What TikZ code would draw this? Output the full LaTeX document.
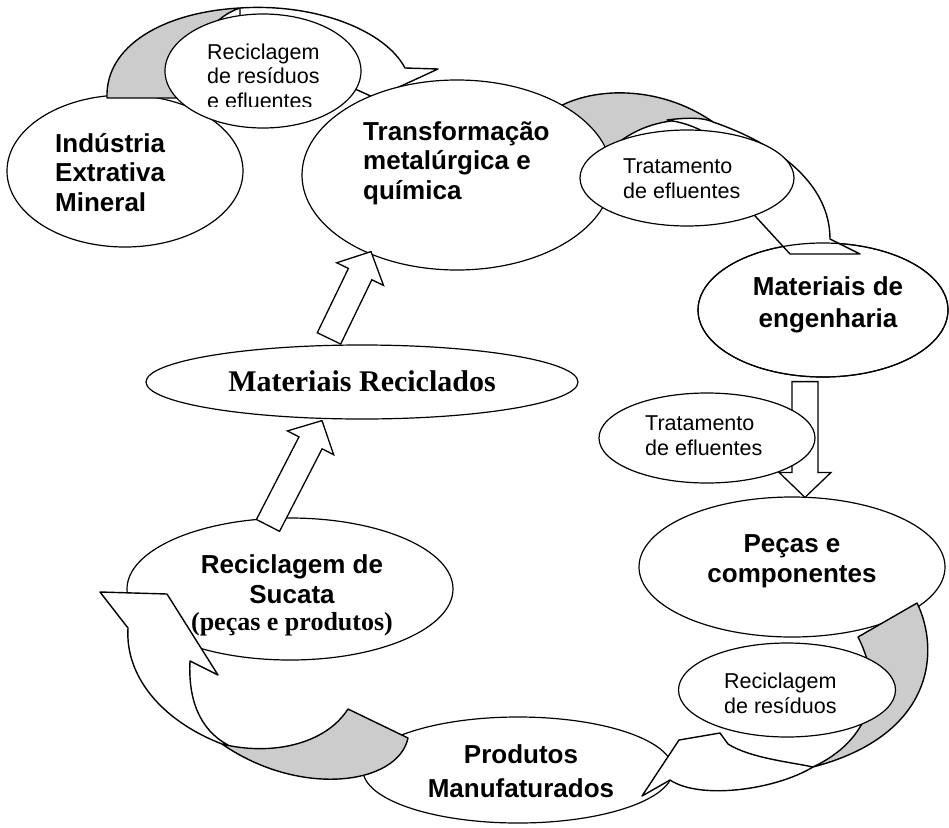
\documentclass[tikz,border=0pt]{standalone}
\usepackage{fontspec}
\setmainfont{Liberation Sans}
\newfontfamily\timesfont{Liberation Serif}
\usetikzlibrary{calc,shapes.geometric}
\tikzset{
  oval/.style={ellipse, draw, fill=white, line width=1.2pt, inner sep=0pt},
  bigtxt/.style={inner sep=0pt, align=left, font=\fontsize{26pt}{29.5pt}\selectfont\bfseries},
  smalltxt/.style={inner sep=0pt, align=left, font=\fontsize{21.5pt}{24.5pt}\selectfont},
  band/.style={draw, fill=white, line width=1.4pt, line join=round},
  fold/.style={band, fill=black!20},
  blockarr/.style={draw, fill=white, line width=1.3pt, line join=miter},
}
% straight block arrow from tail #1 to tip #2
\newcommand{\blockarrow}[2]{%
  \draw[blockarr] ($(#1)!13pt!90:(#2)$)
    -- ($($(#2)!25pt!(#1)$)!13pt!90:(#2)$)
    -- ($($(#2)!25pt!(#1)$)!26pt!90:(#2)$)
    -- (#2)
    -- ($($(#2)!25pt!(#1)$)!26pt!-90:(#2)$)
    -- ($($(#2)!25pt!(#1)$)!13pt!-90:(#2)$)
    -- ($(#1)!13pt!-90:(#2)$) -- cycle;}

\begin{document}
\begin{tikzpicture}[x=1pt, y=-1pt]
  \useasboundingbox (0,0) rectangle (949,827);

  % ovals lying under the arrows
  \node[oval, minimum width=236pt, minimum height=152pt] (ind) at (125,171) {};
  \node[oval, minimum width=250pt, minimum height=134pt] (mat) at (823,310) {};
  \node[oval, minimum width=306pt, minimum height=140pt] (pec) at (792,567) {};
  \node[oval, minimum width=310pt, minimum height=106pt] (pro) at (518,770) {};
  \node[oval, minimum width=326pt, minimum height=142pt] (suc) at (290,589) {};
  \node[oval, minimum width=432pt, minimum height=74pt] (rec) at (362,382) {};

  % curved arrow, top left
  \draw[fold] (107,98) -- (182,98) .. controls (190,50) and (210,18) .. (240,8)
        .. controls (165,12) and (105,45) .. (107,98) -- cycle;
  \draw[band] (240,8) .. controls (315,3) and (385,30) .. (405,68) -- (438,69) -- (375,98)
        -- (333,79) .. controls (320,45) and (285,28) .. (240,28) -- cycle;

  % curved arrow, top right
  \draw[fold] (550,112) .. controls (590,85) and (660,85) .. (713,122)
        .. controls (670,115) and (630,125) .. (600,160) -- cycle;
  \draw[band] (713,122) .. controls (780,145) and (830,185) .. (830,239) -- (860,254)
        -- (790,254) -- (745,205) .. controls (738,162) and (722,128) .. (667,120)
        .. controls (690,117) and (705,118) .. (713,122) -- cycle;

  \node[oval, minimum width=310pt, minimum height=190pt] (trf) at (457,175) {};
  \node[oval, fill=none, minimum width=250pt, minimum height=134pt] (matline) at (mat) {};

  % curved arrow, bottom right
  \draw[fold] (858,637) -- (917,603) .. controls (940,650) and (935,735) .. (813,767)
        .. controls (870,740) and (885,690) .. (858,637) -- cycle;
  \draw[band] (720,733) -- (679,740) -- (642,796) -- (670,780)
        .. controls (700,800) and (775,790) .. (813,767)
        .. controls (790,762) and (750,758) .. (728,744) -- cycle;

  % curved arrow, bottom left
  \draw[fold] (348,709) -- (408,738) .. controls (398,785) and (300,798) .. (222,744)
        .. controls (270,756) and (325,745) .. (348,709) -- cycle;
  \draw[band] (222,744) .. controls (160,720) and (125,675) .. (128,628) -- (100,592)
        -- (167,594) -- (218,675) -- (190,661) .. controls (188,700) and (200,730) .. (228,745) -- cycle;

  % straight arrows
  \coordinate (aT) at ($(rec.north)+(-33,-6)$);
  \coordinate (aH) at ($(trf.south)+(-86,-19)$);
  \coordinate (bT) at ($(suc.north)+(-22,8)$);
  \coordinate (bH) at ($(rec.south)+(-40,1)$);
  \coordinate (cT) at ($(mat.south)+(-18,4)$);
  \coordinate (cH) at ($(pec.north)+(13,1)$);
  \blockarrow{aT}{aH}
  \blockarrow{bT}{bH}
  \blockarrow{cT}{cH}

  % small ovals on top
  \node[oval, minimum width=196pt, minimum height=114pt] (rs1) at (263,71) {};
  \node[oval, minimum width=214pt, minimum height=96pt] (te1) at (687,178) {};
  \node[oval, minimum width=216pt, minimum height=90pt] (te2) at (707,438) {};
  \node[oval, minimum width=217pt, minimum height=94pt] (rs2) at (787,690) {};

  % texts (base = last line)
  \node[bigtxt, anchor=base west] (indtxt) at (55,211) {Indústria\\Extrativa\\Mineral};
  \node[bigtxt, anchor=base west] (trftxt) at (363,199) {Transformação\\metalúrgica e\\química};
  \node[bigtxt, align=center, anchor=base] (mattxt) at (828,327) {Materiais de\\[2.5pt]engenharia};
  \node[bigtxt, align=center, anchor=base] (pectxt) at (792,582) {Peças e\\componentes};
  \node[bigtxt, align=center, anchor=base] (protxt) at (521,797) {Produtos\\[4.5pt]Manufaturados};
  \node[bigtxt, align=center, anchor=base] (suctxt) at (292,630)
        {Reciclagem de\\Sucata\\[-2.5pt]{\timesfont (peças e produtos)}};
  \node[inner sep=0pt, anchor=base, font=\fontsize{30pt}{34pt}\selectfont\timesfont\bfseries]
        (rectxt) at (362,391) {Materiais Reciclados};
  \begin{scope}
    \clip (150,0) rectangle (380,106);
    \node[smalltxt, anchor=base west] (rs1txt) at (207,108) {Reciclagem\\de resíduos\\e efluentes};
  \end{scope}
  \node[smalltxt, anchor=base west] (te1txt) at (623,198) {Tratamento\\de efluentes};
  \node[smalltxt, anchor=base west] (te2txt) at (645,455) {Tratamento\\de efluentes};
  \node[smalltxt, anchor=base west] (rs2txt) at (724,713) {Reciclagem\\de resíduos};
\end{tikzpicture}
\end{document}
